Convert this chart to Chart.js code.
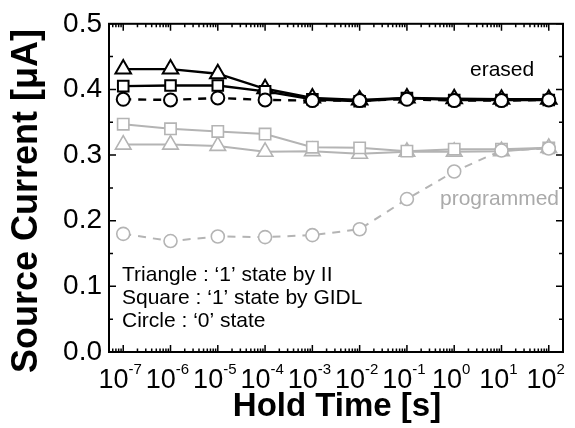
<!DOCTYPE html>
<html>
<head>
<meta charset="utf-8">
<script src="https://cdn.jsdelivr.net/npm/chart.js@4.4.1/dist/chart.umd.min.js"></script>
<style>
  html, body { margin: 0; padding: 0; background: #fff; }
  #wrap { width: 575px; height: 428px; }
</style>
</head>
<body>
<div id="wrap"><canvas id="chart"></canvas></div>
<script>
// hold time [s] and source current [uA]
const holdTimes = [1e-7, 1e-6, 1e-5, 1e-4, 1e-3, 1e-2, 1e-1, 1e0, 1e1, 1e2];
const xTickExponents = [-7, -6, -5, -4, -3, -2, -1, 0, 1, 2];
const yTicks = [0.0, 0.1, 0.2, 0.3, 0.4, 0.5];

const erasedTriangle = [0.431, 0.431, 0.424, 0.401, 0.387, 0.384, 0.387, 0.386, 0.385, 0.385];
const erasedSquare = [0.405, 0.406, 0.406, 0.397, 0.385, 0.382, 0.387, 0.384, 0.384, 0.384];
const erasedCircle = [0.385, 0.384, 0.387, 0.384, 0.383, 0.383, 0.385, 0.383, 0.383, 0.384];
const programmedTriangle = [0.316, 0.316, 0.314, 0.305, 0.306, 0.302, 0.305, 0.305, 0.306, 0.311];
const programmedSquare = [0.347, 0.340, 0.336, 0.332, 0.312, 0.311, 0.306, 0.309, 0.309, 0.311];
const programmedCircle = [0.180, 0.169, 0.176, 0.175, 0.178, 0.187, 0.233, 0.275, 0.307, 0.310];

const BLACK = '#000000';
const GRAY = '#b4b4b4';
const FONT = '"Liberation Sans", Arial, sans-serif';

function series(values, color, shape, radius, dashed, width) {
  return {
    data: holdTimes.map((t, i) => ({ x: t, y: values[i] })),
    borderColor: color,
    borderWidth: width,
    borderDash: dashed ? [8, 7] : [],
    pointStyle: shape,
    pointRadius: radius,
    pointBorderColor: color,
    pointBackgroundColor: '#ffffff',
    pointBorderWidth: width - 0.4,
    tension: 0
  };
}

// 枠・内向き目盛り・テキスト類
const decorations = {
  id: 'decorations',
  afterDatasetsDraw(chart) {
    const ctx = chart.ctx;
    const area = chart.chartArea;
    const xs = chart.scales.x;
    const ys = chart.scales.y;
    ctx.save();
    ctx.strokeStyle = BLACK;
    ctx.lineWidth = 1.5;
    ctx.beginPath();
    // x ticks (top and bottom)
    for (let e = -8; e <= 2; e++) {
      for (let m = 1; m <= 9; m++) {
        const v = m * Math.pow(10, e);
        if (v < xs.min || v > xs.max) continue;
        const px = xs.getPixelForValue(v);
        const len = m === 1 ? 7 : 3.5;
        ctx.moveTo(px, area.bottom); ctx.lineTo(px, area.bottom - len);
        ctx.moveTo(px, area.top); ctx.lineTo(px, area.top + len);
      }
    }
    // y ticks (left and right)
    for (let k = 0; k <= 10; k++) {
      const py = ys.getPixelForValue(k * 0.05);
      const len = k % 2 === 0 ? 7 : 4;
      ctx.moveTo(area.left, py); ctx.lineTo(area.left + len, py);
      ctx.moveTo(area.right, py); ctx.lineTo(area.right - len, py);
    }
    ctx.stroke();
    ctx.lineWidth = 2;
    ctx.strokeRect(area.left, area.top, area.right - area.left, area.bottom - area.top);

    // x tick labels 10^n
    ctx.fillStyle = BLACK;
    ctx.textBaseline = 'alphabetic';
    ctx.textAlign = 'left';
    xTickExponents.forEach(n => {
      const px = xs.getPixelForValue(Math.pow(10, n));
      ctx.font = '27px ' + FONT;
      const base = ctx.measureText('10').width;
      ctx.font = '15px ' + FONT;
      const sup = ctx.measureText(String(n)).width;
      const x0 = px - 3 - (base + sup) / 2;
      ctx.font = '27px ' + FONT;
      ctx.fillText('10', x0, 388);
      ctx.font = '15px ' + FONT;
      ctx.fillText(String(n), x0 + base, 374);
    });

    // axis titles
    ctx.textAlign = 'center';
    ctx.font = 'bold 33px ' + FONT;
    ctx.fillText('Hold Time [s]', 337, 416);
    ctx.font = 'bold 36px ' + FONT;
    ctx.save();
    ctx.translate(37, 201);
    ctx.rotate(-Math.PI / 2);
    ctx.fillText('Source Current [\u03bcA]', 0, 0);
    ctx.restore();

    // annotations
    ctx.font = '21px ' + FONT;
    ctx.textAlign = 'left';
    ctx.fillStyle = BLACK;
    ctx.fillText('erased', 470, 76);
    ctx.fillStyle = '#aaaaaa';
    ctx.fillText('programmed', 440, 205);
    ctx.fillStyle = BLACK;
    ctx.fillText('Triangle : \u20181\u2019 state by II', 122, 281);
    ctx.fillText('Square : \u20181\u2019 state by GIDL', 122, 304);
    ctx.fillText('Circle : \u20180\u2019 state', 122, 327);
    ctx.restore();
  }
};

new Chart(document.getElementById('chart'), {
  type: 'line',
  data: {
    datasets: [
      series(erasedCircle, BLACK, 'circle', 6.5, true, 2.4),
      series(erasedSquare, BLACK, 'rect', 7.5, false, 2.4),
      series(erasedTriangle, BLACK, 'triangle', 9, false, 2.4),
      series(programmedCircle, GRAY, 'circle', 6.5, true, 2),
      series(programmedSquare, GRAY, 'rect', 8, false, 2),
      series(programmedTriangle, GRAY, 'triangle', 9, false, 2)
    ]
  },
  options: {
    responsive: true,
    maintainAspectRatio: false,
    animation: false,
    layout: { padding: { top: 18, right: 12, left: 0, bottom: 0 } },
    plugins: { legend: { display: false }, tooltip: { enabled: false } },
    scales: {
      x: {
        type: 'logarithmic',
        min: 5e-8,
        max: 2e2,
        grid: { display: false, drawTicks: false },
        border: { display: false },
        ticks: { display: false },
        afterFit: s => { s.height = 76; }
      },
      y: {
        type: 'linear',
        min: 0,
        max: 0.5,
        grid: { display: false, drawTicks: false },
        border: { display: false },
        afterBuildTicks: s => { s.ticks = yTicks.map(v => ({ value: v })); },
        ticks: {
          padding: 7,
          color: BLACK,
          font: { family: FONT, size: 28 },
          callback: v => v.toFixed(1)
        },
        afterFit: s => { s.width = 109; }
      }
    }
  },
  plugins: [decorations]
});
</script>
</body>
</html>
